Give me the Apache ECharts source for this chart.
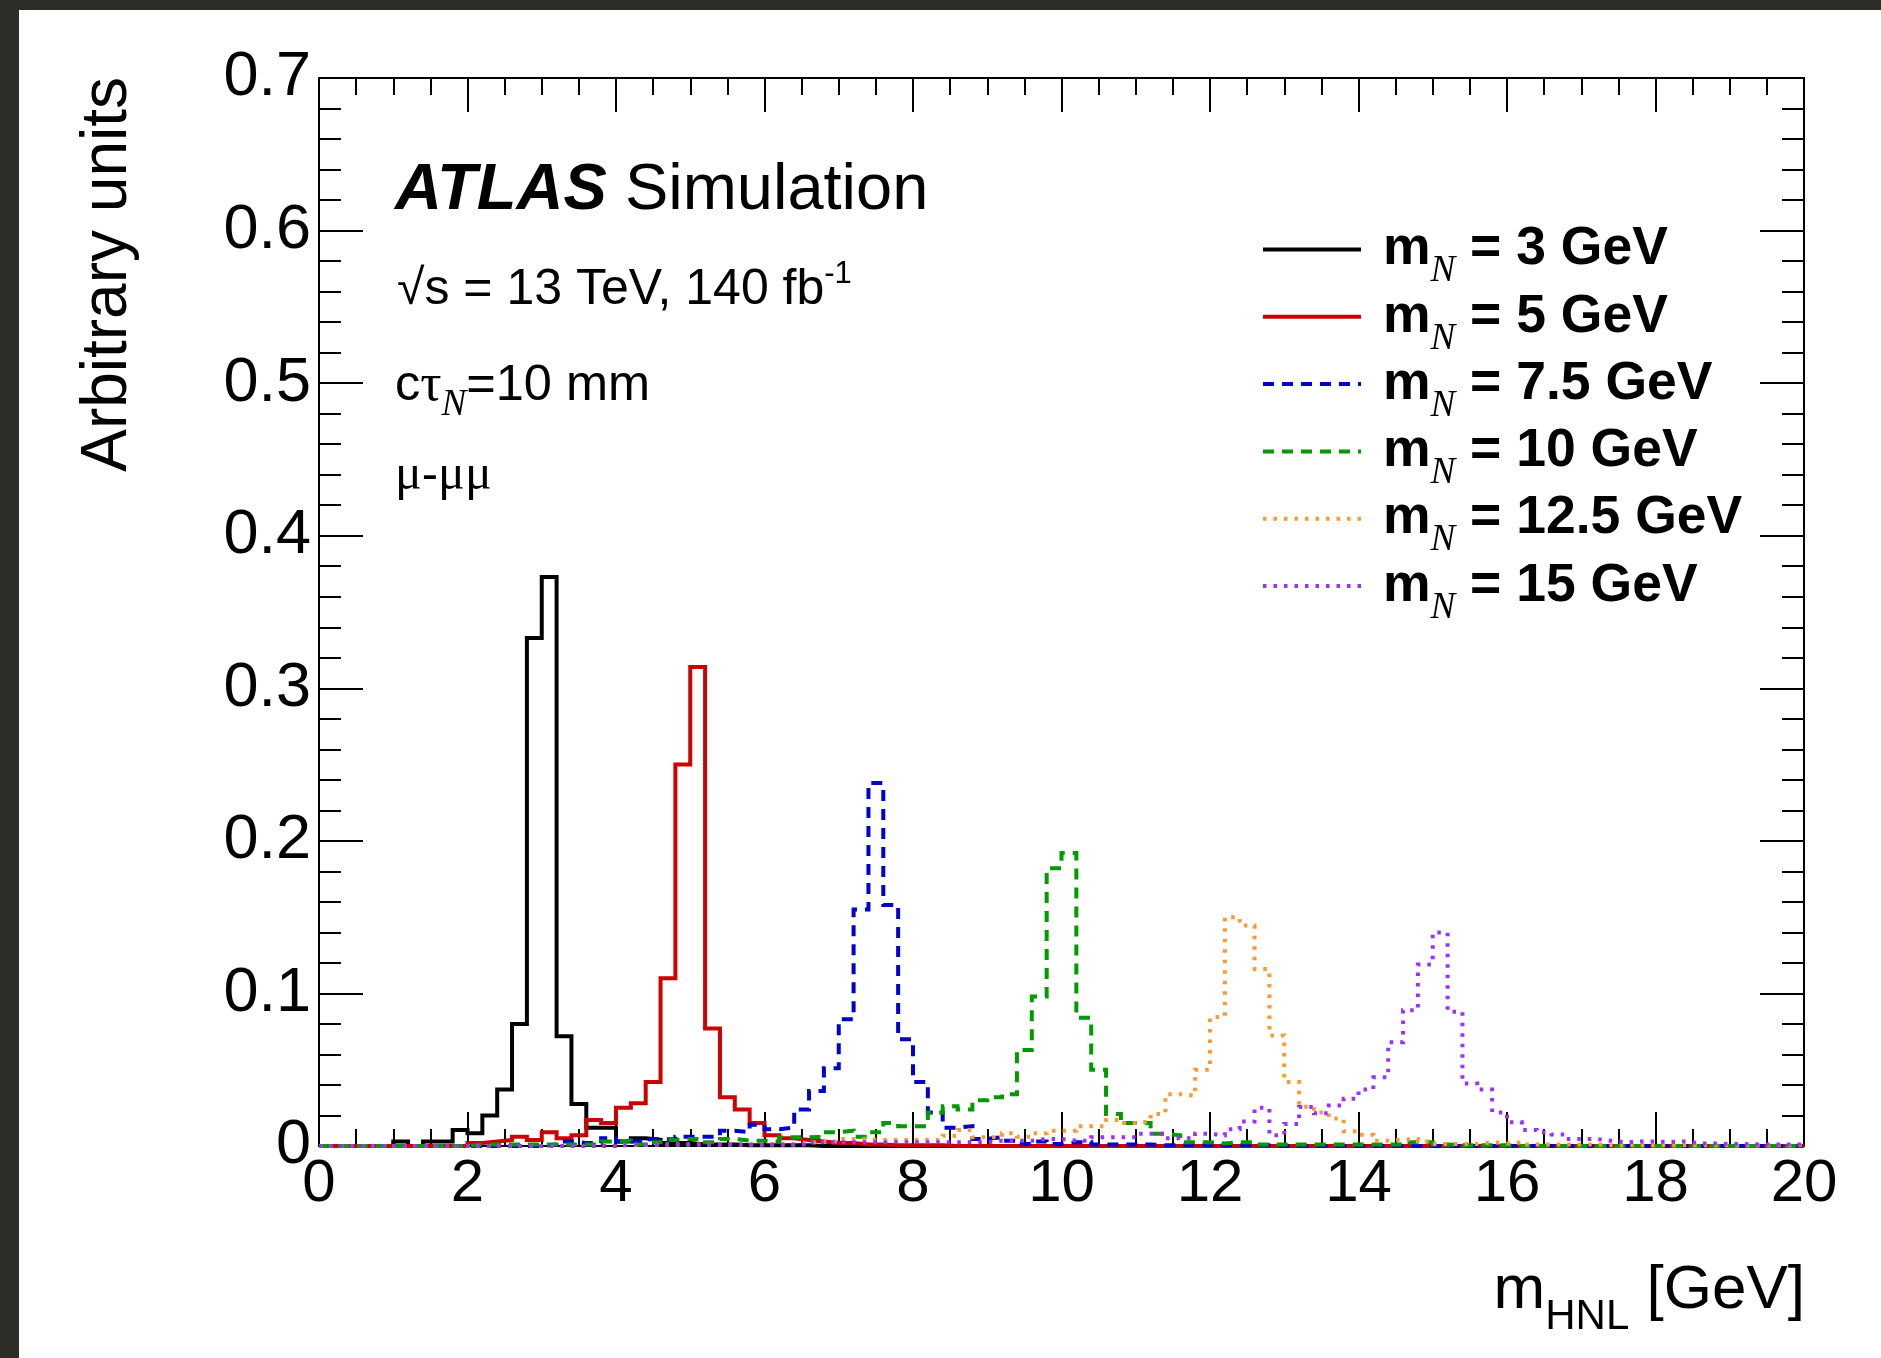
<!DOCTYPE html>
<html>
<head>
<meta charset="utf-8">
<title>m_HNL distributions</title>
<script src="https://cdn.jsdelivr.net/npm/echarts@6/dist/echarts.min.js"></script>
<style>
  html, body { margin: 0; padding: 0; background: #fff; }
  #chart { position: absolute; left: 0; top: 0; width: 1881px; height: 1358px; }
  .edge { position: absolute; background: #2f2d28; }
</style>
</head>
<body>
<div class="edge" style="left:0;top:0;width:1881px;height:10px"></div>
<div class="edge" style="left:0;top:0;width:19px;height:1358px"></div>
<div id="chart"></div>
<script>
// bins of 0.2 GeV from 0 to 20
const BIN_WIDTH = 0.2;
const binEdges = Array.from({ length: 101 }, (_, i) => Math.round(i * BIN_WIDTH * 10) / 10);

const massLabels = ['3', '5', '7.5', '10', '12.5', '15'];
const seriesColors = ['#000000', '#cc0000', '#0000cc', '#009900', '#ff9933', '#9933ff'];
const lineTypes = ['solid', 'solid', [11, 8], [11, 8], [3.5, 7], [3.5, 7]];

// values, one per bin
const mN3 = [
  0, 0, 0, 0, 0, 0.003, 0, 0.003, 0.003, 0.0105,
  0.0083, 0.020, 0.037, 0.080, 0.333, 0.373, 0.072, 0.0275, 0.012, 0.012,
  0.003, 0.005, 0.004, 0.002, 0.002, 0.001, 0.001, 0.001, 0.0005, 0.0005,
  0.0005, 0.0005, 0.0005, 0, 0, 0, 0, 0, 0, 0,
  0, 0, 0, 0, 0, 0, 0, 0, 0, 0,
  0, 0, 0, 0, 0, 0, 0, 0, 0, 0,
  0, 0, 0, 0, 0, 0, 0, 0, 0, 0,
  0, 0, 0, 0, 0, 0, 0, 0, 0, 0,
  0, 0, 0, 0, 0, 0, 0, 0, 0, 0,
  0, 0, 0, 0, 0, 0, 0, 0, 0, 0
];
const mN5 = [
  0, 0, 0, 0, 0, 0, 0, 0, 0, 0,
  0.002, 0.003, 0.004, 0.006, 0.004, 0.009, 0.005, 0.007, 0.017, 0.015,
  0.025, 0.028, 0.042, 0.110, 0.250, 0.314, 0.077, 0.032, 0.024, 0.015,
  0.007, 0.005, 0.004, 0.003, 0.002, 0.002, 0.001, 0.001, 0.0005, 0.0005,
  0.0005, 0.0005, 0, 0, 0, 0, 0, 0, 0, 0,
  0, 0, 0, 0, 0, 0, 0, 0, 0, 0,
  0, 0, 0, 0, 0, 0, 0, 0, 0, 0,
  0, 0, 0, 0, 0, 0, 0, 0, 0, 0,
  0, 0, 0, 0, 0, 0, 0, 0, 0, 0,
  0, 0, 0, 0, 0, 0, 0, 0, 0, 0
];
const mN75 = [
  0, 0, 0, 0, 0, 0, 0, 0, 0, 0,
  0, 0, 0, 0, 0, 0.001, 0.003, 0.002, 0.002, 0.005,
  0.003, 0.003, 0.0045, 0.0045, 0.006, 0.006, 0.006, 0.010, 0.009, 0.014,
  0.011, 0.012, 0.024, 0.036, 0.051, 0.083, 0.155, 0.238, 0.158, 0.070,
  0.042, 0.022, 0.012, 0.013, 0.0046, 0.0057, 0.0035, 0.0013, 0.003, 0.0013,
  0.0024, 0.0024, 0.001, 0.001, 0.001, 0.001, 0.0005, 0.0005, 0.0005, 0.0005,
  0.0005, 0.0005, 0.0005, 0.0005, 0, 0, 0, 0, 0, 0,
  0, 0, 0, 0, 0, 0, 0, 0, 0, 0,
  0, 0, 0, 0, 0, 0, 0, 0, 0, 0,
  0, 0, 0, 0, 0, 0, 0, 0, 0, 0
];
const mN10 = [
  0, 0, 0, 0, 0, 0, 0, 0, 0, 0,
  0.001, 0.001, 0.001, 0.001, 0.001, 0.001, 0.001, 0.001, 0.001, 0.003,
  0.0035, 0.001, 0.0024, 0.004, 0.0046, 0.0046, 0.0024, 0.0046, 0.0035, 0.0035,
  0.003, 0.0057, 0.0057, 0.006, 0.009, 0.010, 0.006, 0.009, 0.015, 0.013,
  0.013, 0.022, 0.026, 0.024, 0.030, 0.032, 0.034, 0.063, 0.098, 0.182,
  0.192, 0.084, 0.050, 0.021, 0.015, 0.015, 0.008, 0.007, 0.0024, 0.0024,
  0.0017, 0.0024, 0.0024, 0.001, 0.001, 0.001, 0.001, 0.001, 0.001, 0.001,
  0.001, 0.001, 0.001, 0.0024, 0.0024, 0.001, 0.0005, 0.0005, 0.0005, 0.0005,
  0, 0, 0, 0, 0, 0, 0, 0, 0, 0,
  0, 0, 0, 0, 0, 0, 0, 0, 0, 0
];
const mN125 = [
  0, 0, 0, 0, 0, 0, 0, 0, 0, 0,
  0, 0, 0, 0, 0, 0, 0, 0, 0, 0,
  0.0005, 0.0005, 0.001, 0.001, 0.001, 0.001, 0.001, 0.001, 0.001, 0.001,
  0.001, 0.001, 0.002, 0.003, 0.003, 0.0046, 0.0046, 0.004, 0.004, 0.004,
  0.004, 0.004, 0.0068, 0.0105, 0.0057, 0.0057, 0.0083, 0.006, 0.0083, 0.010,
  0.010, 0.013, 0.013, 0.017, 0.015, 0.016, 0.021, 0.034, 0.033, 0.050,
  0.0845, 0.150, 0.1445, 0.116, 0.0725, 0.042, 0.0258, 0.022, 0.018, 0.0096,
  0.0074, 0.0035, 0.0042, 0.0046, 0.003, 0.0013, 0.0013, 0.0013, 0.0024, 0.0017,
  0.0024, 0.001, 0.001, 0.001, 0.001, 0.001, 0.0005, 0.0005, 0.0005, 0.0005,
  0.0005, 0.0005, 0.0005, 0.0005, 0.0005, 0.0005, 0.0005, 0.0005, 0.0005, 0.0005
];
const mN15 = [
  0, 0, 0, 0, 0, 0, 0, 0, 0, 0,
  0, 0, 0, 0, 0, 0, 0, 0, 0, 0,
  0.001, 0.001, 0.001, 0.001, 0.001, 0.001, 0.001, 0.001, 0.001, 0.001,
  0.001, 0.001, 0.001, 0.0024, 0.0024, 0.0024, 0.0024, 0.0024, 0.0024, 0.0024,
  0.0024, 0.0024, 0.0024, 0.0024, 0.0024, 0.0035, 0.0035, 0.0035, 0.0046, 0.0046,
  0.0035, 0.0035, 0.0057, 0.0057, 0.0057, 0.008, 0.008, 0.005, 0.005, 0.008,
  0.007, 0.011, 0.016, 0.025, 0.007, 0.0145, 0.0255, 0.0215, 0.0265, 0.031,
  0.037, 0.045, 0.068, 0.089, 0.119, 0.140, 0.088, 0.041, 0.037, 0.022,
  0.0155, 0.0105, 0.009, 0.0075, 0.0046, 0.0046, 0.0035, 0.0024, 0.003, 0.003,
  0.0026, 0.003, 0.0017, 0.0017, 0.0013, 0.0013, 0.001, 0.001, 0.001, 0.001
];
const histograms = [mN3, mN5, mN75, mN10, mN125, mN15];

const SANS = '"Liberation Sans", Arial, Helvetica, sans-serif';
const SERIF = '"Liberation Serif", "Times New Roman", serif';

// step line: one point per bin low edge, plus the last upper edge
function histData(values) {
  const pts = values.map((v, i) => [binEdges[i], v]);
  pts.push([binEdges[values.length], values[values.length - 1]]);
  return pts;
}

const seriesNames = massLabels.map(m => 'mN = ' + m + ' GeV');

const chart = echarts.init(document.getElementById('chart'), null, { renderer: 'canvas' });

const axisLine = { show: true, onZero: false, lineStyle: { color: '#000', width: 2 } };
const xTick = { show: true, inside: true, length: 34, lineStyle: { color: '#000', width: 2 } };
const xMinor = { show: true, splitNumber: 4, length: 17, lineStyle: { color: '#000', width: 2 } };
const yTick = { show: true, inside: true, length: 44, lineStyle: { color: '#000', width: 2 } };
const yMinor = { show: true, splitNumber: 5, length: 22, lineStyle: { color: '#000', width: 2 } };

const option = {
  animation: false,
  backgroundColor: 'transparent',
  grid: { left: 319, top: 78, width: 1485, height: 1068, outerBoundsMode: 'none' },
  xAxis: [
    {
      type: 'value', min: 0, max: 20, interval: 2, position: 'bottom',
      axisLine, axisTick: xTick, minorTick: xMinor, splitLine: { show: false },
      axisLabel: { show: true, margin: 8, fontSize: 60, fontFamily: SANS, color: '#000', showMinLabel: true, showMaxLabel: true, hideOverlap: false }
    },
    {
      type: 'value', min: 0, max: 20, interval: 2, position: 'top',
      axisLine, axisTick: xTick, minorTick: xMinor, splitLine: { show: false },
      axisLabel: { show: false }
    }
  ],
  yAxis: [
    {
      type: 'value', min: 0, max: 0.7, interval: 0.1, position: 'left',
      axisLine, axisTick: yTick, minorTick: yMinor, splitLine: { show: false },
      axisLabel: { show: true, margin: 8, fontSize: 63, fontFamily: SANS, color: '#000', showMinLabel: true, showMaxLabel: true, hideOverlap: false }
    },
    {
      type: 'value', min: 0, max: 0.7, interval: 0.1, position: 'right',
      axisLine, axisTick: yTick, minorTick: yMinor, splitLine: { show: false },
      axisLabel: { show: false }
    }
  ],
  legend: {
    orient: 'vertical', left: 1256, top: 204,
    itemWidth: 98, itemHeight: 20, itemGap: -13.7,
    selectedMode: false,
    itemStyle: { opacity: 0 },
    lineStyle: { width: 4 },
    data: seriesNames,
    formatter: name => {
      const i = seriesNames.indexOf(name);
      return '{m|m}{n|N}{t| = ' + massLabels[i] + ' GeV}';
    },
    textStyle: {
      rich: {
        m: { fontFamily: SANS, fontWeight: 'bold', fontSize: 53.5, lineHeight: 60, color: '#000', padding: [0, 0, 0, 17] },
        n: { fontFamily: SERIF, fontStyle: 'italic', fontSize: 37, lineHeight: 60, color: '#000', padding: [44, 0, 0, 0] },
        t: { fontFamily: SANS, fontWeight: 'bold', fontSize: 53.5, lineHeight: 60, color: '#000' }
      }
    }
  },
  graphic: [
    {
      type: 'text', x: 108, y: 77, rotation: Math.PI / 2,
      style: { text: 'Arbitrary units', font: '64px ' + SANS, fill: '#000', align: 'right', verticalAlign: 'middle', textAlign: 'right', textVerticalAlign: 'middle' }
    },
    {
      type: 'text', x: 1805, y: 1291,
      style: {
        text: '{m|m}{s|HNL}{m| [GeV]}', align: 'right', verticalAlign: 'middle', textAlign: 'right', textVerticalAlign: 'middle',
        rich: {
          m: { fontFamily: SANS, fontSize: 62, lineHeight: 70, fill: '#000' },
          s: { fontFamily: SANS, fontSize: 42, lineHeight: 70, fill: '#000', padding: [52, 0, 0, 0] }
        }
      }
    },
    {
      type: 'text', x: 395, y: 191,
      style: {
        text: '{a|ATLAS}{s| Simulation}', align: 'left', verticalAlign: 'middle', textAlign: 'left', textVerticalAlign: 'middle',
        rich: {
          a: { fontFamily: SANS, fontWeight: 'bold', fontStyle: 'italic', fontSize: 65, lineHeight: 72, fill: '#000' },
          s: { fontFamily: SANS, fontSize: 65, lineHeight: 72, fill: '#000' }
        }
      }
    },
    {
      type: 'text', x: 397, y: 290,
      style: {
        text: '{t|√s = 13 TeV, 140 fb}{p|-1}', align: 'left', verticalAlign: 'middle', textAlign: 'left', textVerticalAlign: 'middle',
        rich: {
          t: { fontFamily: SANS, fontSize: 50, lineHeight: 60, fill: '#000' },
          p: { fontFamily: SANS, fontSize: 31, lineHeight: 60, fill: '#000', padding: [0, 0, 32, 0] }
        }
      }
    },
    {
      type: 'text', x: 395, y: 386,
      style: {
        text: '{t|c}{g|τ}{n|N}{t|=10 mm}', align: 'left', verticalAlign: 'middle', textAlign: 'left', textVerticalAlign: 'middle',
        rich: {
          t: { fontFamily: SANS, fontSize: 50.5, lineHeight: 60, fill: '#000' },
          g: { fontFamily: SERIF, fontSize: 53, lineHeight: 60, fill: '#000' },
          n: { fontFamily: SERIF, fontStyle: 'italic', fontSize: 37, lineHeight: 60, fill: '#000', padding: [38, 0, 0, 0] }
        }
      }
    },
    {
      type: 'text', x: 395, y: 476,
      style: {
        text: '{g|μ}{t|-}{g|μμ}', align: 'left', verticalAlign: 'middle', textAlign: 'left', textVerticalAlign: 'middle',
        rich: {
          t: { fontFamily: SANS, fontSize: 49, lineHeight: 60, fill: '#000' },
          g: { fontFamily: SERIF, fontSize: 50, lineHeight: 60, fill: '#000' }
        }
      }
    }
  ],
  series: histograms.map((values, i) => ({
    name: seriesNames[i],
    type: 'line',
    step: 'end',
    symbol: 'none',
    clip: false,
    data: histData(values),
    lineStyle: { color: seriesColors[i], width: 4, type: lineTypes[i], cap: 'butt', join: 'miter' },
    itemStyle: { color: seriesColors[i] },
    emphasis: { disabled: true }
  }))
};

chart.setOption(option);

window.addEventListener('resize', () => {
  chart.resize();
});
</script>
</body>
</html>
